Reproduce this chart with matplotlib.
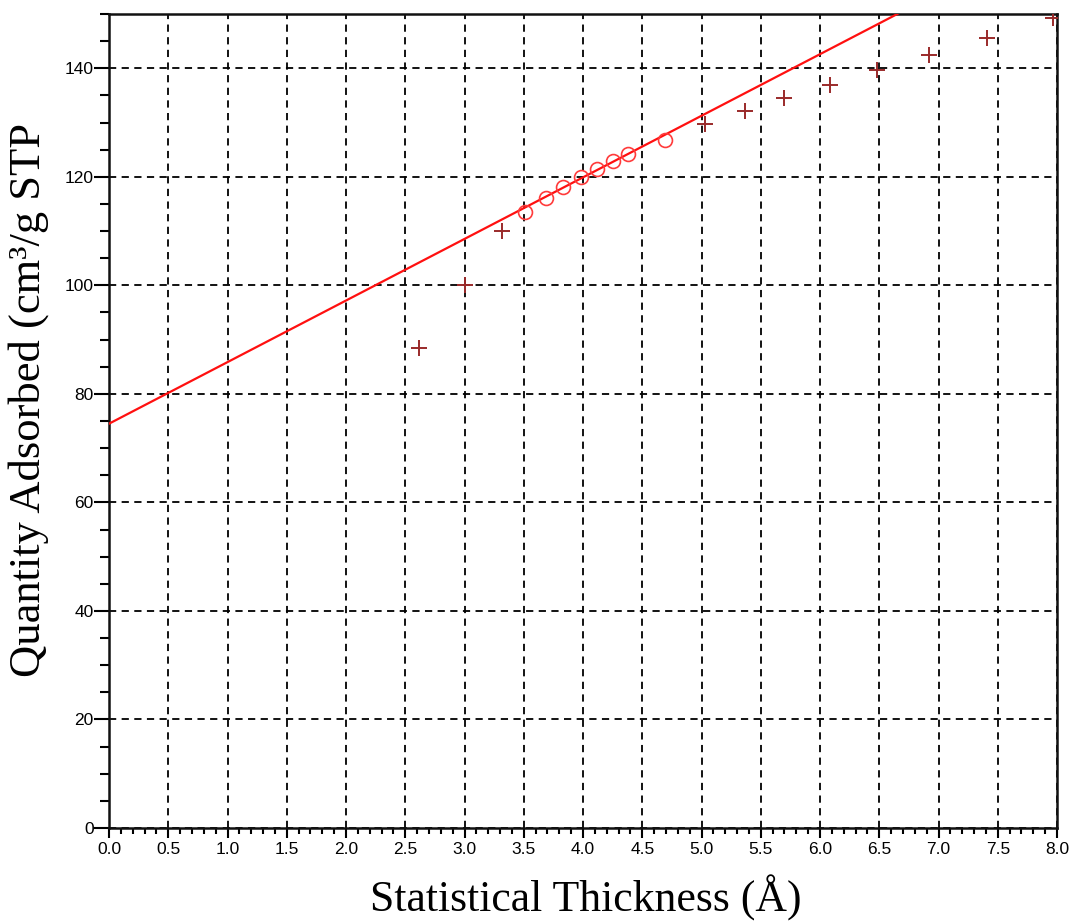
import numpy as np
import matplotlib.pyplot as plt
from matplotlib.ticker import MultipleLocator

# t-plot data
fit_t = [3.51, 3.69, 3.83, 3.98, 4.12, 4.25, 4.38, 4.69]
fit_q = [113.5, 116.1, 118.1, 120.0, 121.4, 122.9, 124.2, 126.8]
other_t = [2.62, 3.00, 3.32, 5.03, 5.37, 5.70, 6.08, 6.48, 6.92, 7.41, 7.97]
other_q = [88.5, 100.0, 110.0, 129.7, 132.2, 134.6, 137.0, 139.7, 142.5, 145.6, 149.3]
slope = 11.35
intercept = 74.5

fig = plt.figure(figsize=(10.74, 9.22), dpi=100)
ax = fig.add_axes([0.1015, 0.102, 0.8827, 0.8828])

# regression line
line_x = np.array([0.0, 8.0])
ax.plot(line_x, intercept + slope * line_x, color='#ff1010', lw=1.6, zorder=3)

ax.plot(other_t, other_q, linestyle='none', marker='+', markersize=11,
        markeredgewidth=1.4, color='#9a2a2a', zorder=4)
ax.plot(fit_t, fit_q, linestyle='none', marker='o', markersize=10,
        markerfacecolor='none', markeredgewidth=1.2, color='#ff3b3b', zorder=4)

ax.set_xlim(0, 8)
ax.set_ylim(0, 150)
ax.xaxis.set_major_locator(MultipleLocator(0.5))
ax.xaxis.set_minor_locator(MultipleLocator(0.1))
ax.yaxis.set_major_locator(MultipleLocator(20))
ax.yaxis.set_minor_locator(MultipleLocator(5))
ax.xaxis.set_major_formatter(plt.FormatStrFormatter('%.1f'))

ax.grid(True, which='major', color='black', linestyle=(0, (4, 3)), linewidth=1.3)
ax.set_axisbelow(True)

for s in ax.spines.values():
    s.set_linewidth(1.8)
    s.set_color('#111111')

ax.tick_params(axis='both', which='both', direction='out', width=1.5,
               labelsize=12.5, colors='black')
ax.tick_params(axis='x', which='major', length=7, pad=3)
ax.tick_params(axis='x', which='minor', length=4)
ax.tick_params(axis='y', which='major', length=11, pad=0)
ax.tick_params(axis='y', which='minor', length=6.5)
for lab in ax.get_xticklabels() + ax.get_yticklabels():
    lab.set_family('Liberation Sans')

ax.set_xlabel('Statistical Thickness (Å)', family='Liberation Serif', fontsize=31.5)
ax.set_ylabel('Quantity Adsorbed (cm³/g STP', family='Liberation Serif', fontsize=32)
ax.xaxis.set_label_coords(0.503, -0.058)
ax.yaxis.set_label_coords(-0.063, 0.526)

fig.savefig('out.png', dpi=100)
